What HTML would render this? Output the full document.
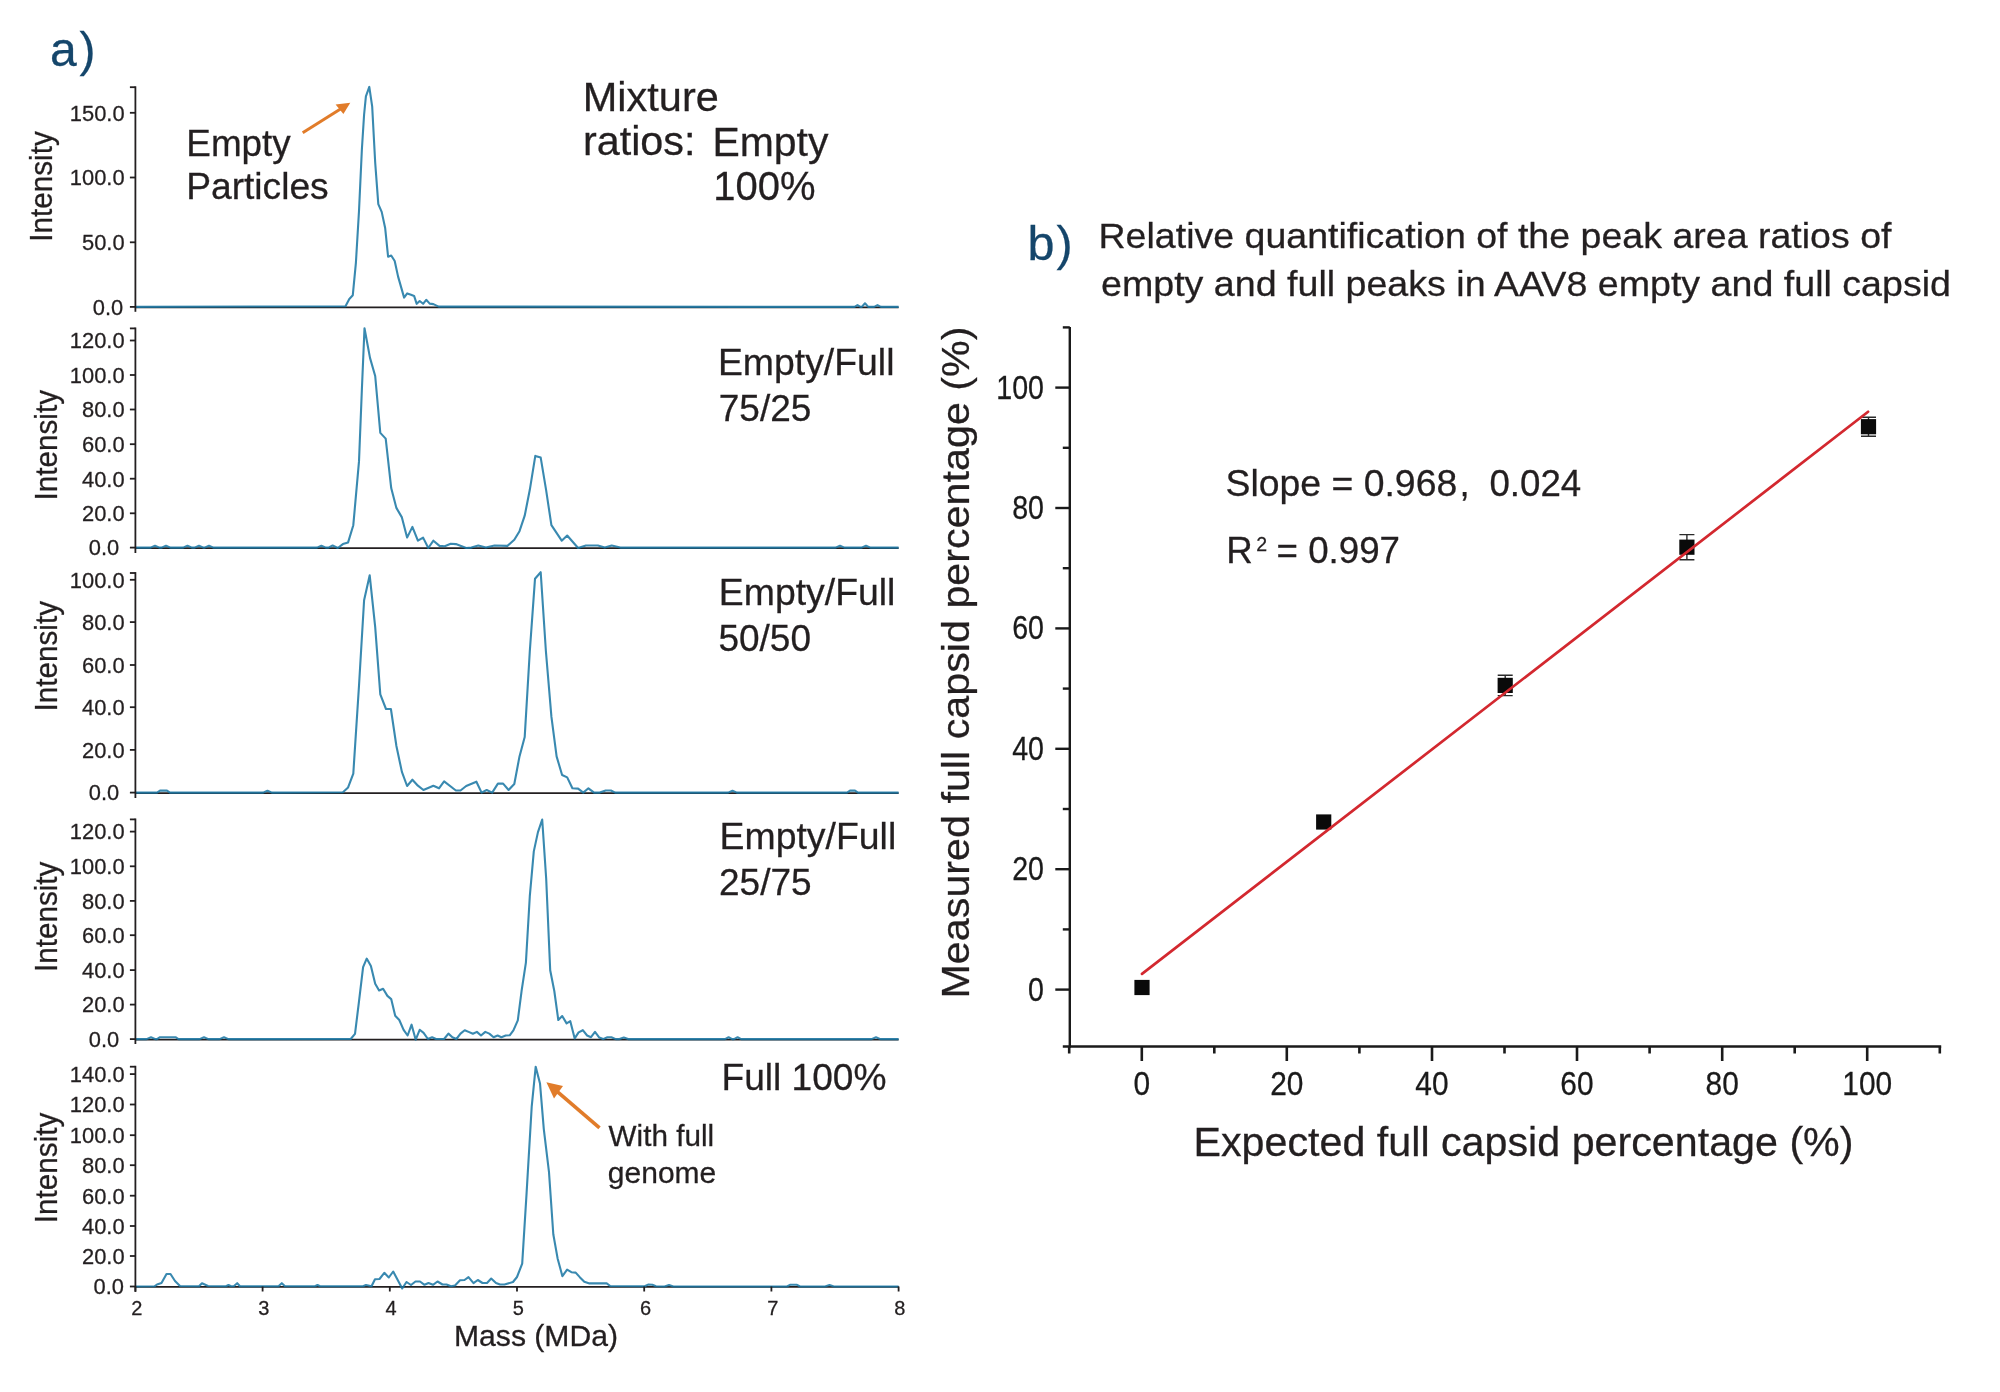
<!DOCTYPE html>
<html lang="en">
<head>
<meta charset="utf-8">
<title>Figure: AAV8 empty/full capsid mass spectra and relative quantification</title>
<style>
html,body{margin:0;padding:0;background:#fff;}
body{width:2000px;height:1392px;overflow:hidden;}
svg{display:block;will-change:transform;}
</style>
</head>
<body>
<svg width="2000" height="1392" viewBox="0 0 2000 1392" font-family="'Liberation Sans', Arial, Helvetica, sans-serif" fill="#231f20">
<rect width="2000" height="1392" fill="#ffffff"/>
<text x="50" y="65.7" font-size="48" fill="#15466b" stroke="#15466b" stroke-width="0.28">a<tspan dx="2.8">)</tspan></text>
<g id="plot1">
<line x1="135.4" y1="307.35" x2="898.6" y2="307.35" stroke="#231f20" stroke-width="1.8"/>
<polyline points="135.4,306.9 345.5,306.2 349.3,299.0 352.8,295.2 355.9,262.8 359.0,211.0 361.9,149.0 364.1,114.5 365.9,96.4 369.3,86.9 372.2,106.7 375.2,162.8 378.3,204.1 381.7,211.9 385.2,228.3 388.1,256.7 391.2,255.5 394.7,261.0 398.1,276.6 404.1,297.6 407.2,293.4 411.0,294.7 414.1,295.9 416.7,303.8 419.7,301.0 423.1,303.8 426.2,299.8 429.7,303.6 433.4,304.1 438.6,306.6 854.5,306.9 857.5,305.1 860.5,306.9 861.8,306.9 865.0,303.3 868.2,306.9 874.1,306.9 877.5,305.1 880.9,306.9 898.6,306.9" fill="none" stroke="#1c78a4" stroke-width="2.1" stroke-opacity="0.87" stroke-linejoin="round"/>
<line x1="135.4" y1="86.3" x2="135.4" y2="311.8" stroke="#231f20" stroke-width="1.8"/>
<line x1="129.9" y1="87.2" x2="135.4" y2="87.2" stroke="#231f20" stroke-width="1.8"/>
<line x1="129.9" y1="112.8" x2="135.4" y2="112.8" stroke="#231f20" stroke-width="1.8"/>
<text x="124.6" y="120.6" font-size="21.9" text-anchor="end" stroke="#231f20" stroke-width="0.28">150.0</text>
<line x1="129.9" y1="177.5" x2="135.4" y2="177.5" stroke="#231f20" stroke-width="1.8"/>
<text x="124.6" y="185.3" font-size="21.9" text-anchor="end" stroke="#231f20" stroke-width="0.28">100.0</text>
<line x1="129.9" y1="242.3" x2="135.4" y2="242.3" stroke="#231f20" stroke-width="1.8"/>
<text x="124.6" y="250.1" font-size="21.9" text-anchor="end" stroke="#231f20" stroke-width="0.28">50.0</text>
<line x1="129.9" y1="306.9" x2="135.4" y2="306.9" stroke="#231f20" stroke-width="1.8"/>
<text x="123.3" y="314.7" font-size="21.9" text-anchor="end" stroke="#231f20" stroke-width="0.28">0.0</text>
<text transform="translate(51.7,186.5) rotate(-90)" font-size="30.9" text-anchor="middle" textLength="110.5" lengthAdjust="spacingAndGlyphs" stroke="#231f20" stroke-width="0.28">Intensity</text>
</g>
<g id="plot2">
<line x1="135.4" y1="548.05" x2="898.6" y2="548.05" stroke="#231f20" stroke-width="1.8"/>
<polyline points="135.4,547.6 150.6,547.6 155.0,545.7 159.4,547.6 161.6,547.6 166.0,545.7 170.4,547.6 183.1,547.6 187.5,545.7 191.9,547.6 194.6,547.6 199.0,545.7 203.4,547.6 204.6,547.6 209.0,545.7 213.4,547.6 317.0,547.6 321.4,545.7 325.8,547.6 328.5,547.6 332.6,545.5 337.8,548.0 342.9,544.1 348.1,542.4 353.3,525.2 359.0,461.4 361.9,389.0 364.5,328.3 370.0,357.9 375.2,376.0 380.3,432.9 385.7,438.6 391.2,488.1 396.4,507.9 401.9,517.4 407.1,537.6 412.4,526.9 417.9,540.7 423.1,537.6 428.3,548.0 433.4,540.7 439.5,545.9 444.7,546.2 450.7,543.8 455.9,544.1 466.2,548.0 471.4,547.6 478.3,545.5 485.9,547.6 494.5,545.5 507.4,545.9 514.3,539.8 519.5,531.2 524.7,515.7 529.8,489.8 535.3,455.9 540.7,457.6 546.2,490.7 551.4,525.2 561.7,540.7 567.2,535.5 578.1,548.0 585.9,545.5 597.9,545.5 604.8,547.6 611.7,545.5 620.3,547.6 835.6,547.6 840.0,545.7 844.4,547.6 861.6,547.6 866.0,545.7 870.4,547.6 898.6,547.6" fill="none" stroke="#1c78a4" stroke-width="2.1" stroke-opacity="0.87" stroke-linejoin="round"/>
<line x1="135.4" y1="327.5" x2="135.4" y2="553.0" stroke="#231f20" stroke-width="1.8"/>
<line x1="129.9" y1="328.4" x2="135.4" y2="328.4" stroke="#231f20" stroke-width="1.8"/>
<line x1="129.9" y1="340.5" x2="135.4" y2="340.5" stroke="#231f20" stroke-width="1.8"/>
<text x="124.6" y="348.3" font-size="21.9" text-anchor="end" stroke="#231f20" stroke-width="0.28">120.0</text>
<line x1="129.9" y1="375.0" x2="135.4" y2="375.0" stroke="#231f20" stroke-width="1.8"/>
<text x="124.6" y="382.8" font-size="21.9" text-anchor="end" stroke="#231f20" stroke-width="0.28">100.0</text>
<line x1="129.9" y1="409.5" x2="135.4" y2="409.5" stroke="#231f20" stroke-width="1.8"/>
<text x="124.6" y="417.3" font-size="21.9" text-anchor="end" stroke="#231f20" stroke-width="0.28">80.0</text>
<line x1="129.9" y1="444.2" x2="135.4" y2="444.2" stroke="#231f20" stroke-width="1.8"/>
<text x="124.6" y="452.0" font-size="21.9" text-anchor="end" stroke="#231f20" stroke-width="0.28">60.0</text>
<line x1="129.9" y1="478.7" x2="135.4" y2="478.7" stroke="#231f20" stroke-width="1.8"/>
<text x="124.6" y="486.5" font-size="21.9" text-anchor="end" stroke="#231f20" stroke-width="0.28">40.0</text>
<line x1="129.9" y1="513.3" x2="135.4" y2="513.3" stroke="#231f20" stroke-width="1.8"/>
<text x="124.6" y="521.1" font-size="21.9" text-anchor="end" stroke="#231f20" stroke-width="0.28">20.0</text>
<line x1="129.9" y1="547.6" x2="135.4" y2="547.6" stroke="#231f20" stroke-width="1.8"/>
<text x="119.3" y="555.4" font-size="21.9" text-anchor="end" stroke="#231f20" stroke-width="0.28">0.0</text>
<text transform="translate(56.5,445.2) rotate(-90)" font-size="30.9" text-anchor="middle" textLength="110.5" lengthAdjust="spacingAndGlyphs" stroke="#231f20" stroke-width="0.28">Intensity</text>
</g>
<g id="plot3">
<line x1="135.4" y1="793.05" x2="898.6" y2="793.05" stroke="#231f20" stroke-width="1.8"/>
<polyline points="135.4,792.6 157.0,792.6 160.0,790.6 167.0,790.6 170.0,792.6 263.1,792.6 267.5,790.7 271.9,792.6 342.9,792.2 348.1,787.4 353.3,773.6 359.0,685.7 364.1,600.3 369.7,575.3 375.2,627.1 380.3,694.3 386.0,709.0 390.9,709.0 396.4,746.0 401.9,771.9 407.1,786.0 412.4,779.7 417.9,785.7 423.4,790.0 433.4,785.7 439.0,788.3 444.1,781.4 455.9,790.5 460.5,790.5 466.2,786.0 476.4,781.7 481.6,792.6 486.7,790.0 492.2,792.6 497.9,783.6 503.1,783.6 508.6,790.0 514.3,784.0 519.5,756.4 524.7,737.1 529.8,651.2 535.0,578.8 540.7,572.2 545.9,651.2 551.4,716.7 556.6,756.4 562.1,775.0 567.2,777.4 572.4,788.3 578.1,788.6 583.3,792.6 588.4,788.3 594.1,792.6 599.7,792.6 605.7,790.5 610.9,790.5 615.2,792.6 728.1,792.6 732.5,790.7 736.9,792.6 847.0,792.6 850.0,790.6 855.0,790.6 858.0,792.6 898.6,792.6" fill="none" stroke="#1c78a4" stroke-width="2.1" stroke-opacity="0.87" stroke-linejoin="round"/>
<line x1="135.4" y1="572.1" x2="135.4" y2="798.0" stroke="#231f20" stroke-width="1.8"/>
<line x1="129.9" y1="573.0" x2="135.4" y2="573.0" stroke="#231f20" stroke-width="1.8"/>
<line x1="129.9" y1="579.8" x2="135.4" y2="579.8" stroke="#231f20" stroke-width="1.8"/>
<text x="124.6" y="587.6" font-size="21.9" text-anchor="end" stroke="#231f20" stroke-width="0.28">100.0</text>
<line x1="129.9" y1="622.1" x2="135.4" y2="622.1" stroke="#231f20" stroke-width="1.8"/>
<text x="124.6" y="629.9" font-size="21.9" text-anchor="end" stroke="#231f20" stroke-width="0.28">80.0</text>
<line x1="129.9" y1="665.0" x2="135.4" y2="665.0" stroke="#231f20" stroke-width="1.8"/>
<text x="124.6" y="672.8" font-size="21.9" text-anchor="end" stroke="#231f20" stroke-width="0.28">60.0</text>
<line x1="129.9" y1="707.2" x2="135.4" y2="707.2" stroke="#231f20" stroke-width="1.8"/>
<text x="124.6" y="715.0" font-size="21.9" text-anchor="end" stroke="#231f20" stroke-width="0.28">40.0</text>
<line x1="129.9" y1="749.9" x2="135.4" y2="749.9" stroke="#231f20" stroke-width="1.8"/>
<text x="124.6" y="757.7" font-size="21.9" text-anchor="end" stroke="#231f20" stroke-width="0.28">20.0</text>
<line x1="129.9" y1="792.6" x2="135.4" y2="792.6" stroke="#231f20" stroke-width="1.8"/>
<text x="119.3" y="800.4" font-size="21.9" text-anchor="end" stroke="#231f20" stroke-width="0.28">0.0</text>
<text transform="translate(56.5,656.2) rotate(-90)" font-size="30.9" text-anchor="middle" textLength="110.5" lengthAdjust="spacingAndGlyphs" stroke="#231f20" stroke-width="0.28">Intensity</text>
</g>
<g id="plot4">
<line x1="135.4" y1="1039.55" x2="898.6" y2="1039.55" stroke="#231f20" stroke-width="1.8"/>
<polyline points="135.4,1039.1 146.6,1039.1 151.0,1037.3 155.4,1039.1 157.0,1039.1 160.0,1037.2 175.5,1037.2 178.5,1039.1 199.6,1039.1 204.0,1037.3 208.4,1039.1 219.6,1039.1 224.0,1037.3 228.4,1039.1 350.7,1039.0 355.0,1033.8 359.0,1001.4 363.1,967.2 366.7,958.6 370.9,966.0 375.2,983.8 379.1,990.5 383.1,988.8 387.4,995.9 391.2,999.1 395.2,1015.7 399.3,1020.0 403.6,1029.8 407.6,1035.5 411.6,1024.7 415.7,1039.7 419.7,1029.8 423.6,1032.9 427.9,1039.0 432.1,1037.2 436.0,1039.0 444.1,1039.0 448.4,1033.6 452.4,1037.2 456.4,1039.0 460.5,1033.6 464.7,1030.2 468.6,1031.9 472.9,1033.8 476.9,1031.9 481.0,1035.5 485.3,1031.9 489.3,1033.6 493.6,1037.2 497.6,1035.5 501.4,1037.2 505.7,1035.5 509.7,1035.3 513.4,1030.3 517.8,1020.3 521.7,990.2 525.9,962.6 529.8,896.2 533.8,851.4 537.9,832.4 542.2,819.5 546.2,879.0 550.2,970.3 554.3,991.0 558.3,1020.0 562.2,1016.0 566.6,1023.4 570.3,1021.2 574.7,1038.4 578.6,1032.4 582.8,1030.2 587.1,1035.5 591.0,1037.2 595.0,1031.9 599.3,1037.6 603.1,1039.1 607.4,1037.2 611.4,1037.2 615.7,1039.1 619.5,1039.1 623.8,1037.6 628.1,1039.1 725.0,1039.1 728.6,1037.3 732.2,1039.1 734.0,1039.1 737.6,1037.3 741.2,1039.1 871.6,1039.1 876.0,1037.3 880.4,1039.1 898.6,1039.1" fill="none" stroke="#1c78a4" stroke-width="2.1" stroke-opacity="0.87" stroke-linejoin="round"/>
<line x1="135.4" y1="818.5" x2="135.4" y2="1044.0" stroke="#231f20" stroke-width="1.8"/>
<line x1="129.9" y1="819.4" x2="135.4" y2="819.4" stroke="#231f20" stroke-width="1.8"/>
<line x1="129.9" y1="831.6" x2="135.4" y2="831.6" stroke="#231f20" stroke-width="1.8"/>
<text x="124.6" y="839.4" font-size="21.9" text-anchor="end" stroke="#231f20" stroke-width="0.28">120.0</text>
<line x1="129.9" y1="866.3" x2="135.4" y2="866.3" stroke="#231f20" stroke-width="1.8"/>
<text x="124.6" y="874.1" font-size="21.9" text-anchor="end" stroke="#231f20" stroke-width="0.28">100.0</text>
<line x1="129.9" y1="900.9" x2="135.4" y2="900.9" stroke="#231f20" stroke-width="1.8"/>
<text x="124.6" y="908.7" font-size="21.9" text-anchor="end" stroke="#231f20" stroke-width="0.28">80.0</text>
<line x1="129.9" y1="935.2" x2="135.4" y2="935.2" stroke="#231f20" stroke-width="1.8"/>
<text x="124.6" y="943.0" font-size="21.9" text-anchor="end" stroke="#231f20" stroke-width="0.28">60.0</text>
<line x1="129.9" y1="970.1" x2="135.4" y2="970.1" stroke="#231f20" stroke-width="1.8"/>
<text x="124.6" y="977.9" font-size="21.9" text-anchor="end" stroke="#231f20" stroke-width="0.28">40.0</text>
<line x1="129.9" y1="1004.6" x2="135.4" y2="1004.6" stroke="#231f20" stroke-width="1.8"/>
<text x="124.6" y="1012.4" font-size="21.9" text-anchor="end" stroke="#231f20" stroke-width="0.28">20.0</text>
<line x1="129.9" y1="1039.1" x2="135.4" y2="1039.1" stroke="#231f20" stroke-width="1.8"/>
<text x="119.3" y="1046.9" font-size="21.9" text-anchor="end" stroke="#231f20" stroke-width="0.28">0.0</text>
<text transform="translate(56.5,916.8) rotate(-90)" font-size="30.9" text-anchor="middle" textLength="110.5" lengthAdjust="spacingAndGlyphs" stroke="#231f20" stroke-width="0.28">Intensity</text>
</g>
<g id="plot5">
<line x1="135.4" y1="1286.95" x2="898.6" y2="1286.95" stroke="#231f20" stroke-width="1.8"/>
<polyline points="135.4,1286.5 154.5,1286.3 157.0,1284.5 161.5,1283.0 166.5,1274.0 170.5,1274.0 175.0,1281.0 180.0,1286.0 199.0,1286.3 202.0,1283.2 208.0,1286.0 226.0,1286.3 228.5,1285.0 231.0,1286.3 234.0,1286.0 237.2,1283.2 240.0,1286.3 278.5,1286.3 281.8,1283.2 285.0,1286.3 315.0,1286.3 317.5,1285.0 320.0,1286.3 363.0,1286.3 366.0,1285.0 371.5,1286.3 375.0,1279.2 379.5,1279.0 384.3,1272.8 388.8,1277.5 393.2,1271.5 402.2,1288.5 406.5,1282.0 411.0,1285.0 415.5,1281.5 420.0,1281.5 424.5,1284.8 428.5,1283.0 433.0,1284.8 437.5,1281.5 442.5,1284.5 446.5,1284.5 451.0,1286.3 455.0,1285.5 460.0,1280.3 464.5,1280.0 468.5,1277.2 473.5,1283.2 477.8,1280.0 482.5,1283.0 487.0,1283.0 491.2,1278.5 496.0,1283.0 500.0,1284.5 504.5,1284.5 513.0,1282.0 517.0,1277.0 522.2,1263.6 526.6,1192.9 531.7,1106.7 535.7,1066.7 540.0,1083.4 543.8,1129.1 549.0,1172.2 553.3,1234.3 557.6,1258.4 562.4,1276.2 567.1,1269.7 571.4,1272.2 575.7,1272.6 580.0,1277.4 584.3,1281.7 589.5,1283.4 606.7,1283.4 610.2,1286.0 644.7,1286.3 648.1,1284.6 652.4,1284.8 655.9,1286.3 664.6,1286.5 669.0,1285.0 673.4,1286.5 787.0,1286.5 790.0,1284.8 797.0,1284.8 800.0,1286.5 825.1,1286.5 829.5,1285.0 833.9,1286.5 898.6,1286.5" fill="none" stroke="#1c78a4" stroke-width="2.1" stroke-opacity="0.87" stroke-linejoin="round"/>
<line x1="135.4" y1="1065.8" x2="135.4" y2="1291.9" stroke="#231f20" stroke-width="1.8"/>
<line x1="129.9" y1="1066.7" x2="135.4" y2="1066.7" stroke="#231f20" stroke-width="1.8"/>
<line x1="129.9" y1="1074.1" x2="135.4" y2="1074.1" stroke="#231f20" stroke-width="1.8"/>
<text x="124.6" y="1081.9" font-size="21.9" text-anchor="end" stroke="#231f20" stroke-width="0.28">140.0</text>
<line x1="129.9" y1="1104.5" x2="135.4" y2="1104.5" stroke="#231f20" stroke-width="1.8"/>
<text x="124.6" y="1112.3" font-size="21.9" text-anchor="end" stroke="#231f20" stroke-width="0.28">120.0</text>
<line x1="129.9" y1="1135.2" x2="135.4" y2="1135.2" stroke="#231f20" stroke-width="1.8"/>
<text x="124.6" y="1143.0" font-size="21.9" text-anchor="end" stroke="#231f20" stroke-width="0.28">100.0</text>
<line x1="129.9" y1="1165.2" x2="135.4" y2="1165.2" stroke="#231f20" stroke-width="1.8"/>
<text x="124.6" y="1173.0" font-size="21.9" text-anchor="end" stroke="#231f20" stroke-width="0.28">80.0</text>
<line x1="129.9" y1="1195.7" x2="135.4" y2="1195.7" stroke="#231f20" stroke-width="1.8"/>
<text x="124.6" y="1203.5" font-size="21.9" text-anchor="end" stroke="#231f20" stroke-width="0.28">60.0</text>
<line x1="129.9" y1="1226.0" x2="135.4" y2="1226.0" stroke="#231f20" stroke-width="1.8"/>
<text x="124.6" y="1233.8" font-size="21.9" text-anchor="end" stroke="#231f20" stroke-width="0.28">40.0</text>
<line x1="129.9" y1="1256.0" x2="135.4" y2="1256.0" stroke="#231f20" stroke-width="1.8"/>
<text x="124.6" y="1263.8" font-size="21.9" text-anchor="end" stroke="#231f20" stroke-width="0.28">20.0</text>
<line x1="129.9" y1="1286.5" x2="135.4" y2="1286.5" stroke="#231f20" stroke-width="1.8"/>
<text x="124.0" y="1294.3" font-size="21.9" text-anchor="end" stroke="#231f20" stroke-width="0.28">0.0</text>
<text transform="translate(56.5,1167.9) rotate(-90)" font-size="30.9" text-anchor="middle" textLength="110.5" lengthAdjust="spacingAndGlyphs" stroke="#231f20" stroke-width="0.28">Intensity</text>
</g>
<line x1="135.4" y1="1286.5" x2="135.4" y2="1291.5" stroke="#231f20" stroke-width="1.8"/>
<text x="136.7" y="1315" font-size="20" text-anchor="middle" stroke="#231f20" stroke-width="0.28">2</text>
<line x1="262.6" y1="1286.5" x2="262.6" y2="1291.5" stroke="#231f20" stroke-width="1.8"/>
<text x="263.9" y="1315" font-size="20" text-anchor="middle" stroke="#231f20" stroke-width="0.28">3</text>
<line x1="389.8" y1="1286.5" x2="389.8" y2="1291.5" stroke="#231f20" stroke-width="1.8"/>
<text x="391.1" y="1315" font-size="20" text-anchor="middle" stroke="#231f20" stroke-width="0.28">4</text>
<line x1="517.0" y1="1286.5" x2="517.0" y2="1291.5" stroke="#231f20" stroke-width="1.8"/>
<text x="518.3" y="1315" font-size="20" text-anchor="middle" stroke="#231f20" stroke-width="0.28">5</text>
<line x1="644.2" y1="1286.5" x2="644.2" y2="1291.5" stroke="#231f20" stroke-width="1.8"/>
<text x="645.5" y="1315" font-size="20" text-anchor="middle" stroke="#231f20" stroke-width="0.28">6</text>
<line x1="771.4" y1="1286.5" x2="771.4" y2="1291.5" stroke="#231f20" stroke-width="1.8"/>
<text x="772.7" y="1315" font-size="20" text-anchor="middle" stroke="#231f20" stroke-width="0.28">7</text>
<line x1="898.6" y1="1286.5" x2="898.6" y2="1291.5" stroke="#231f20" stroke-width="1.8"/>
<text x="899.9" y="1315" font-size="20" text-anchor="middle" stroke="#231f20" stroke-width="0.28">8</text>
<text x="454" y="1345.8" font-size="29.5" textLength="164" lengthAdjust="spacingAndGlyphs" stroke="#231f20" stroke-width="0.28">Mass (MDa)</text>
<text x="186.3" y="155.6" font-size="36.5" textLength="104.5" lengthAdjust="spacingAndGlyphs" stroke="#231f20" stroke-width="0.28">Empty</text>
<text x="186.2" y="198.7" font-size="36.5" textLength="142.5" lengthAdjust="spacingAndGlyphs" stroke="#231f20" stroke-width="0.28">Particles</text>
<text x="582.8" y="110.6" font-size="40" textLength="136" lengthAdjust="spacingAndGlyphs" stroke="#231f20" stroke-width="0.28">Mixture</text>
<text x="582.9" y="155.4" font-size="40" textLength="112.6" lengthAdjust="spacingAndGlyphs" stroke="#231f20" stroke-width="0.28">ratios:</text>
<text x="712.4" y="156.4" font-size="40" textLength="116" lengthAdjust="spacingAndGlyphs" stroke="#231f20" stroke-width="0.28">Empty</text>
<text x="713.2" y="200.2" font-size="40" stroke="#231f20" stroke-width="0.28">100%</text>
<text x="717.9" y="374.6" font-size="37.4" textLength="176.6" lengthAdjust="spacingAndGlyphs" stroke="#231f20" stroke-width="0.28">Empty/Full</text>
<text x="718.8" y="420.8" font-size="37" stroke="#231f20" stroke-width="0.28">75/25</text>
<text x="718.8" y="604.6" font-size="37.4" textLength="176.6" lengthAdjust="spacingAndGlyphs" stroke="#231f20" stroke-width="0.28">Empty/Full</text>
<text x="718.4" y="651.3" font-size="37" stroke="#231f20" stroke-width="0.28">50/50</text>
<text x="719.6" y="848.7" font-size="37.4" textLength="176.6" lengthAdjust="spacingAndGlyphs" stroke="#231f20" stroke-width="0.28">Empty/Full</text>
<text x="719.0" y="894.7" font-size="37" stroke="#231f20" stroke-width="0.28">25/75</text>
<text x="721.5" y="1090.3" font-size="37" textLength="165" lengthAdjust="spacingAndGlyphs" stroke="#231f20" stroke-width="0.28">Full 100%</text>
<text x="608.6" y="1146.4" font-size="29" textLength="105.5" lengthAdjust="spacingAndGlyphs" stroke="#231f20" stroke-width="0.28">With full</text>
<text x="607.8" y="1183.2" font-size="29" textLength="108.5" lengthAdjust="spacingAndGlyphs" stroke="#231f20" stroke-width="0.28">genome</text>
<line x1="302.7" y1="132.8" x2="340.5" y2="108.9" stroke="#e17c2a" stroke-width="3"/>
<polygon points="350.3,102.7 335.6,104.6 343.4,114.0" fill="#e17c2a"/>
<line x1="599.5" y1="1127.8" x2="557" y2="1091.3" stroke="#e17c2a" stroke-width="3.6"/>
<polygon points="546.4,1082.2 563.0,1086.0 554.0,1098.6" fill="#e17c2a"/>
<text x="1027" y="260" font-size="48.5" fill="#15466b" stroke="#15466b" stroke-width="0.28"><tspan x="1027.5">b</tspan><tspan dx="2">)</tspan></text>
<text x="1098.5" y="247.5" font-size="35.6" textLength="793" lengthAdjust="spacingAndGlyphs" stroke="#231f20" stroke-width="0.28">Relative quantification of the peak area ratios of</text>
<text x="1101" y="296.2" font-size="35.6" textLength="850" lengthAdjust="spacingAndGlyphs" stroke="#231f20" stroke-width="0.28">empty and full peaks in AAV8 empty and full capsid</text>
<line x1="1069.8" y1="327.0" x2="1069.8" y2="1047.7" stroke="#1a1a1a" stroke-width="2.4"/>
<line x1="1062.8" y1="1046.5" x2="1941.2" y2="1046.5" stroke="#1a1a1a" stroke-width="2.4"/>
<line x1="1069.2" y1="1046.5" x2="1069.2" y2="1053.5" stroke="#1a1a1a" stroke-width="2.6"/>
<line x1="1055.3" y1="989.6" x2="1069.8" y2="989.6" stroke="#1a1a1a" stroke-width="2.4"/>
<text x="1044" y="1000.6" font-size="32.5" text-anchor="end" fill="#1a1a1a" transform="translate(1044,0) scale(0.88,1) translate(-1044,0)" stroke="#1a1a1a" stroke-width="0.28">0</text>
<line x1="1141.8" y1="1046.5" x2="1141.8" y2="1061.0" stroke="#1a1a1a" stroke-width="2.6"/>
<text x="1141.8" y="1095" font-size="32.5" text-anchor="middle" fill="#1a1a1a" transform="translate(1141.8,0) scale(0.92,1) translate(-1141.8,0)" stroke="#1a1a1a" stroke-width="0.28">0</text>
<line x1="1062.8" y1="929.4" x2="1069.8" y2="929.4" stroke="#1a1a1a" stroke-width="2.4"/>
<line x1="1214.3" y1="1046.5" x2="1214.3" y2="1053.5" stroke="#1a1a1a" stroke-width="2.6"/>
<line x1="1055.3" y1="869.2" x2="1069.8" y2="869.2" stroke="#1a1a1a" stroke-width="2.4"/>
<text x="1044" y="880.2" font-size="32.5" text-anchor="end" fill="#1a1a1a" transform="translate(1044,0) scale(0.88,1) translate(-1044,0)" stroke="#1a1a1a" stroke-width="0.28">20</text>
<line x1="1286.8" y1="1046.5" x2="1286.8" y2="1061.0" stroke="#1a1a1a" stroke-width="2.6"/>
<text x="1286.8" y="1095" font-size="32.5" text-anchor="middle" fill="#1a1a1a" transform="translate(1286.8,0) scale(0.92,1) translate(-1286.8,0)" stroke="#1a1a1a" stroke-width="0.28">20</text>
<line x1="1062.8" y1="809.0" x2="1069.8" y2="809.0" stroke="#1a1a1a" stroke-width="2.4"/>
<line x1="1359.4" y1="1046.5" x2="1359.4" y2="1053.5" stroke="#1a1a1a" stroke-width="2.6"/>
<line x1="1055.3" y1="748.8" x2="1069.8" y2="748.8" stroke="#1a1a1a" stroke-width="2.4"/>
<text x="1044" y="759.8" font-size="32.5" text-anchor="end" fill="#1a1a1a" transform="translate(1044,0) scale(0.88,1) translate(-1044,0)" stroke="#1a1a1a" stroke-width="0.28">40</text>
<line x1="1432.0" y1="1046.5" x2="1432.0" y2="1061.0" stroke="#1a1a1a" stroke-width="2.6"/>
<text x="1432.0" y="1095" font-size="32.5" text-anchor="middle" fill="#1a1a1a" transform="translate(1432.0,0) scale(0.92,1) translate(-1432.0,0)" stroke="#1a1a1a" stroke-width="0.28">40</text>
<line x1="1062.8" y1="688.6" x2="1069.8" y2="688.6" stroke="#1a1a1a" stroke-width="2.4"/>
<line x1="1504.5" y1="1046.5" x2="1504.5" y2="1053.5" stroke="#1a1a1a" stroke-width="2.6"/>
<line x1="1055.3" y1="628.4" x2="1069.8" y2="628.4" stroke="#1a1a1a" stroke-width="2.4"/>
<text x="1044" y="639.4" font-size="32.5" text-anchor="end" fill="#1a1a1a" transform="translate(1044,0) scale(0.88,1) translate(-1044,0)" stroke="#1a1a1a" stroke-width="0.28">60</text>
<line x1="1577.0" y1="1046.5" x2="1577.0" y2="1061.0" stroke="#1a1a1a" stroke-width="2.6"/>
<text x="1577.0" y="1095" font-size="32.5" text-anchor="middle" fill="#1a1a1a" transform="translate(1577.0,0) scale(0.92,1) translate(-1577.0,0)" stroke="#1a1a1a" stroke-width="0.28">60</text>
<line x1="1062.8" y1="568.2" x2="1069.8" y2="568.2" stroke="#1a1a1a" stroke-width="2.4"/>
<line x1="1649.6" y1="1046.5" x2="1649.6" y2="1053.5" stroke="#1a1a1a" stroke-width="2.6"/>
<line x1="1055.3" y1="508.0" x2="1069.8" y2="508.0" stroke="#1a1a1a" stroke-width="2.4"/>
<text x="1044" y="519.0" font-size="32.5" text-anchor="end" fill="#1a1a1a" transform="translate(1044,0) scale(0.88,1) translate(-1044,0)" stroke="#1a1a1a" stroke-width="0.28">80</text>
<line x1="1722.2" y1="1046.5" x2="1722.2" y2="1061.0" stroke="#1a1a1a" stroke-width="2.6"/>
<text x="1722.2" y="1095" font-size="32.5" text-anchor="middle" fill="#1a1a1a" transform="translate(1722.2,0) scale(0.92,1) translate(-1722.2,0)" stroke="#1a1a1a" stroke-width="0.28">80</text>
<line x1="1062.8" y1="447.8" x2="1069.8" y2="447.8" stroke="#1a1a1a" stroke-width="2.4"/>
<line x1="1794.7" y1="1046.5" x2="1794.7" y2="1053.5" stroke="#1a1a1a" stroke-width="2.6"/>
<line x1="1055.3" y1="387.6" x2="1069.8" y2="387.6" stroke="#1a1a1a" stroke-width="2.4"/>
<text x="1044" y="398.6" font-size="32.5" text-anchor="end" fill="#1a1a1a" transform="translate(1044,0) scale(0.88,1) translate(-1044,0)" stroke="#1a1a1a" stroke-width="0.28">100</text>
<line x1="1867.2" y1="1046.5" x2="1867.2" y2="1061.0" stroke="#1a1a1a" stroke-width="2.6"/>
<text x="1867.2" y="1095" font-size="32.5" text-anchor="middle" fill="#1a1a1a" transform="translate(1867.2,0) scale(0.92,1) translate(-1867.2,0)" stroke="#1a1a1a" stroke-width="0.28">100</text>
<line x1="1062.8" y1="327.4" x2="1069.8" y2="327.4" stroke="#1a1a1a" stroke-width="2.4"/>
<line x1="1939.8" y1="1046.5" x2="1939.8" y2="1053.5" stroke="#1a1a1a" stroke-width="2.6"/>
<rect x="1134.4" y="979.9" width="15.2" height="15.2" fill="#0a0a0a"/>
<rect x="1316.1" y="814.4" width="15.2" height="15.2" fill="#0a0a0a"/>
<path d="M1505.2 675.2V695.6M1497.7 675.2H1512.7M1497.7 695.6H1512.7" stroke="#2a2a2a" stroke-width="1.4" fill="none"/>
<rect x="1497.6" y="677.8" width="15.2" height="15.2" fill="#0a0a0a"/>
<path d="M1686.9 534.6V559.8M1679.4 534.6H1694.4M1679.4 559.8H1694.4" stroke="#2a2a2a" stroke-width="1.4" fill="none"/>
<rect x="1679.3" y="539.6" width="15.2" height="15.2" fill="#0a0a0a"/>
<path d="M1868.5 417.2V436.2M1861.0 417.2H1876.0M1861.0 436.2H1876.0" stroke="#2a2a2a" stroke-width="1.4" fill="none"/>
<rect x="1860.9" y="419.1" width="15.2" height="15.2" fill="#0a0a0a"/>
<line x1="1142" y1="973.9" x2="1868.1" y2="411.8" stroke="#d3282f" stroke-width="2.7" stroke-linecap="round"/>
<text font-size="36.7" y="495.6" stroke="#231f20" stroke-width="0.28"><tspan x="1225.6" textLength="231.6" lengthAdjust="spacingAndGlyphs">Slope = 0.968</tspan><tspan x="1459.6">,</tspan><tspan x="1489.4">0.024</tspan></text>
<text font-size="36.7" y="562.8" stroke="#231f20" stroke-width="0.28"><tspan x="1226.3">R</tspan><tspan x="1256.3" dy="-11.8" font-size="19.5">2</tspan><tspan x="1276.6" dy="11.8">= 0.997</tspan></text>
<text x="1193.5" y="1155.8" font-size="40" textLength="660" lengthAdjust="spacingAndGlyphs" stroke="#231f20" stroke-width="0.28">Expected full capsid percentage (%)</text>
<text transform="translate(968.6,998.5) rotate(-90)" font-size="39.2" textLength="672" lengthAdjust="spacingAndGlyphs" stroke="#231f20" stroke-width="0.28">Measured full capsid percentage (%)</text>
</svg>
</body>
</html>
